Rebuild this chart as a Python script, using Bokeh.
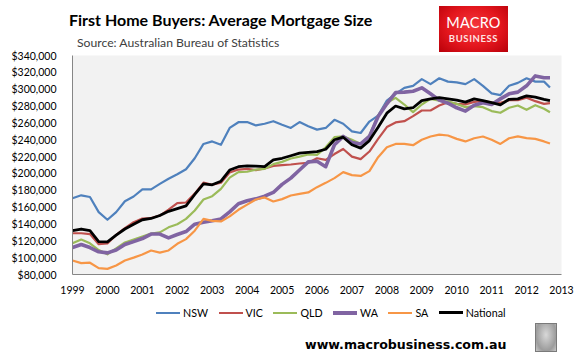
from bokeh.plotting import figure
from bokeh.layouts import column
from bokeh.models import Div, NumeralTickFormatter, FixedTicker, Range1d
from bokeh.embed import file_html
from bokeh.resources import INLINE

# quarterly observation dates (decimal years)
dates = [1999.0, 1999.25, 1999.5, 1999.75, 2000.0, 2000.25, 2000.5, 2000.75,
         2001.0, 2001.25, 2001.5, 2001.75, 2002.0, 2002.25, 2002.5, 2002.75,
         2003.0, 2003.25, 2003.5, 2003.75, 2004.0, 2004.25, 2004.5, 2004.75,
         2005.0, 2005.25, 2005.5, 2005.75, 2006.0, 2006.25, 2006.5, 2006.75,
         2007.0, 2007.25, 2007.5, 2007.75, 2008.0, 2008.25, 2008.5, 2008.75,
         2009.0, 2009.25, 2009.5, 2009.75, 2010.0, 2010.25, 2010.5, 2010.75,
         2011.0, 2011.25, 2011.5, 2011.75, 2012.0, 2012.25, 2012.5, 2012.67]

# average mortgage size, $ thousands
nsw = [170.6, 174, 172, 154, 145, 154, 167, 172.6, 181, 181, 187.6, 193.6,
       199, 205, 218, 235, 238, 234, 254, 260.8, 261, 257, 259, 262,
       257.7, 254, 261, 256, 252, 254, 263.6, 259, 250, 248, 261.6, 268.7,
       286.5, 294.5, 301.6, 304, 312, 306, 313, 309, 308, 306, 312, 304,
       295, 293, 304, 307.5, 313, 309, 309, 302]
vic = [129, 129, 128, 116, 117, 127, 135, 142, 146.5, 147, 150, 157,
       164.7, 165.5, 176, 189, 186.5, 189, 201, 204.6, 205.4, 204, 206, 209,
       209.8, 210.6, 211.8, 212.6, 218, 216, 223, 229, 220, 217, 226, 241,
       255, 260.5, 262, 268, 274.7, 274.7, 280.6, 284.6, 282.6, 282, 285, 285.8,
       284, 283.8, 286.9, 287, 290, 285.8, 282.6, 283.4]
qld = [117, 121.5, 117, 109, 104, 111, 118, 121.5, 125, 128.7, 130, 136,
       139.7, 146, 156, 169, 173, 181.7, 195, 201.5, 202, 204.6, 205.4, 211,
       213.7, 217.7, 220, 222.5, 222, 231, 243, 244, 240, 235, 245, 268.7,
       283.8, 289.7, 281.8, 272.7, 281.8, 288.5, 286.5, 285.4, 282.6, 278.7, 280, 278.7,
       274, 272, 278, 280.6, 275.5, 281, 276.7, 272.7]
wa = [112, 115.6, 112, 107, 105.7, 109, 115.6, 119, 122.7, 128, 128, 123.5,
      127.5, 131, 139.7, 142, 143.7, 146, 154.4, 164, 167.5, 169.8, 173, 177.4,
      187, 194.4, 204, 213.7, 214.5, 208, 234, 244, 236.7, 235, 244, 267.5,
      282.6, 296, 296.5, 297.6, 301.6, 294.5, 287, 283.4, 277.9, 274, 281, 284,
      281.8, 288.5, 294.5, 296.5, 304, 315.8, 313.5, 313.5]
sa = [96.6, 93.5, 94, 87.5, 86.7, 90.7, 96.6, 100, 103.7, 108.5, 106, 108.5,
      116.4, 122, 132, 146, 143.7, 143, 149, 156.8, 163, 169, 171.5, 166.7,
      169.5, 173.8, 175.8, 177.4, 183.7, 188.8, 194.4, 201.5, 198, 197, 202.7, 219.3,
      231, 235, 235, 233.5, 240, 243.8, 246, 245, 241, 238, 241.8, 243.8,
      240, 235, 241.8, 244, 242, 241, 238, 235.5]
national = [132, 134, 132, 119, 118.8, 126.7, 134, 139.7, 145, 146.5, 150, 155,
            158.3, 161.5, 175, 187.6, 186.5, 190.8, 204, 208, 209, 208.6, 208, 216,
            218, 221, 224, 225, 226, 228.7, 240, 243, 234, 230, 239, 254.8,
            271.5, 280, 276.7, 278, 286.5, 288.5, 290, 288.5, 287, 284.6, 288.5, 286.5,
            284, 281.4, 288, 288.5, 292, 290.5, 288, 286.5]

series_names = ["NSW", "VIC", "QLD", "WA", "SA", "National"]
series_values = [nsw, vic, qld, wa, sa, national]
series_colors = ["#4F81BD", "#C0504D", "#9BBB59", "#8064A2", "#F79646", "#000000"]
series_widths = [2.2, 2.2, 2.2, 3.6, 2.2, 2.8]

x_ticks = [1999, 2000, 2001, 2002, 2003, 2004, 2005, 2006, 2007, 2008,
           2009, 2010, 2011, 2012, 2013]
y_ticks = [80000, 100000, 120000, 140000, 160000, 180000, 200000, 220000,
           240000, 260000, 280000, 300000, 320000, 340000]

title_text = "First Home Buyers: Average Mortgage Size"
subtitle_text = "Source: Australian Bureau of Statistics"
url_text = "www.macrobusiness.com.au"

FONT = "Lato"
W = 578
HEAD_H = 55          # header block (title, source, logo)
TOP_B = 7            # chart top border, overlapping the header by the same amount
FRAME_H = 219
BOT_B = 26
MAIN_H = TOP_B + FRAME_H + BOT_B
FOOT_TOP = HEAD_H + FRAME_H + BOT_B
FOOT_H = 361 - FOOT_TOP

# ---------- header ----------
header_html = f"""
<div style="position:relative;width:{W}px;height:{HEAD_H}px;overflow:hidden;background:#fff;font-family:'{FONT}';">
  <div style="position:absolute;left:69px;top:12px;font-size:16px;line-height:16px;font-weight:bold;color:#000;white-space:nowrap;">{title_text}</div>
  <div style="position:absolute;left:77px;top:37.3px;font-size:12.2px;line-height:12.2px;color:#404040;white-space:nowrap;">{subtitle_text}</div>
  <div style="position:absolute;left:439px;top:6px;width:69px;height:46px;
              background:radial-gradient(ellipse at 50% 45%, #F5383D 0%, #E3161D 55%, #B8000A 100%);">
    <div style="position:absolute;left:0;top:10px;width:69px;text-align:center;font-size:14.5px;line-height:14.5px;color:#FFFFFF;letter-spacing:0.2px;">MACRO</div>
    <div style="position:absolute;left:0;top:27.5px;width:69px;text-align:center;font-size:9.5px;line-height:9.5px;font-weight:bold;color:#FFE2E2;letter-spacing:0.6px;">BUSINESS</div>
  </div>
</div>
"""
header = Div(text=header_html, width=W, height=HEAD_H, margin=(0, 0, 0, 0))

# ---------- main chart ----------
p = figure(width=W, height=MAIN_H, output_backend="svg", toolbar_location=None,
           x_range=Range1d(1999, 2013), y_range=Range1d(80000, 340000),
           min_border_left=72, min_border_right=17, min_border_top=TOP_B,
           min_border_bottom=BOT_B, margin=(-TOP_B, 0, 0, 0))
p.background_fill_color = "#F2F2F2"
p.border_fill_color = "white"
p.border_fill_alpha = 0
p.outline_line_color = None
p.grid.visible = False

for ax in (p.xaxis, p.yaxis):
    ax.axis_line_color = "#868686"
    ax.axis_line_width = 1
    ax.major_tick_line_color = None
    ax.minor_tick_line_color = None
    ax.major_label_text_font = FONT
    ax.major_label_text_font_size = "10.5px"
    ax.major_label_text_color = "#000000"

p.xaxis.ticker = FixedTicker(ticks=x_ticks)
p.yaxis.ticker = FixedTicker(ticks=y_ticks)
p.yaxis.formatter = NumeralTickFormatter(format="$0,0")
p.yaxis.major_label_standoff = 10
p.xaxis.major_label_standoff = 5

for name, vals, col, w in zip(series_names, series_values, series_colors, series_widths):
    p.line(dates, [v * 1000 for v in vals], line_color=col, line_width=w,
           line_join="round")

# ---------- footer (legend, url, logo image box) ----------
legend_items = "".join(
    f'<div style="display:flex;align-items:center;margin-right:10.5px;">'
    f'<div style="width:24px;height:0;border-top:{max(2, round(w))}px solid {c};"></div>'
    f'<span style="margin-left:3px;">{n}</span></div>'
    for n, c, w in zip(series_names, series_colors, series_widths))
footer_html = f"""
<div style="position:relative;width:{W}px;height:{FOOT_H}px;overflow:hidden;background:#fff;">
  <div style="position:absolute;left:156px;top:{304.7 - FOOT_TOP}px;height:16px;display:flex;align-items:center;
              font-family:'{FONT}';font-size:10.7px;line-height:16px;color:#000;white-space:nowrap;">{legend_items}</div>
  <div style="position:absolute;left:305px;top:{337 - FOOT_TOP}px;font-family:'DejaVu Sans';font-size:12.6px;line-height:15px;font-weight:bold;color:#000;white-space:nowrap;">{url_text}</div>
  <div style="position:absolute;left:535px;top:{323 - FOOT_TOP}px;width:22px;height:29px;border:1px solid #7A7A7A;
              background:radial-gradient(ellipse at 50% 40%, #D8D8D8 0%, #9C9C9C 70%, #C8C8C8 100%);"></div>
</div>
"""
footer = Div(text=footer_html, width=W, height=FOOT_H, margin=(0, 0, 0, 0))

layout = column(header, p, footer, spacing=0)
open("out.html", "w").write(file_html(layout, INLINE))
